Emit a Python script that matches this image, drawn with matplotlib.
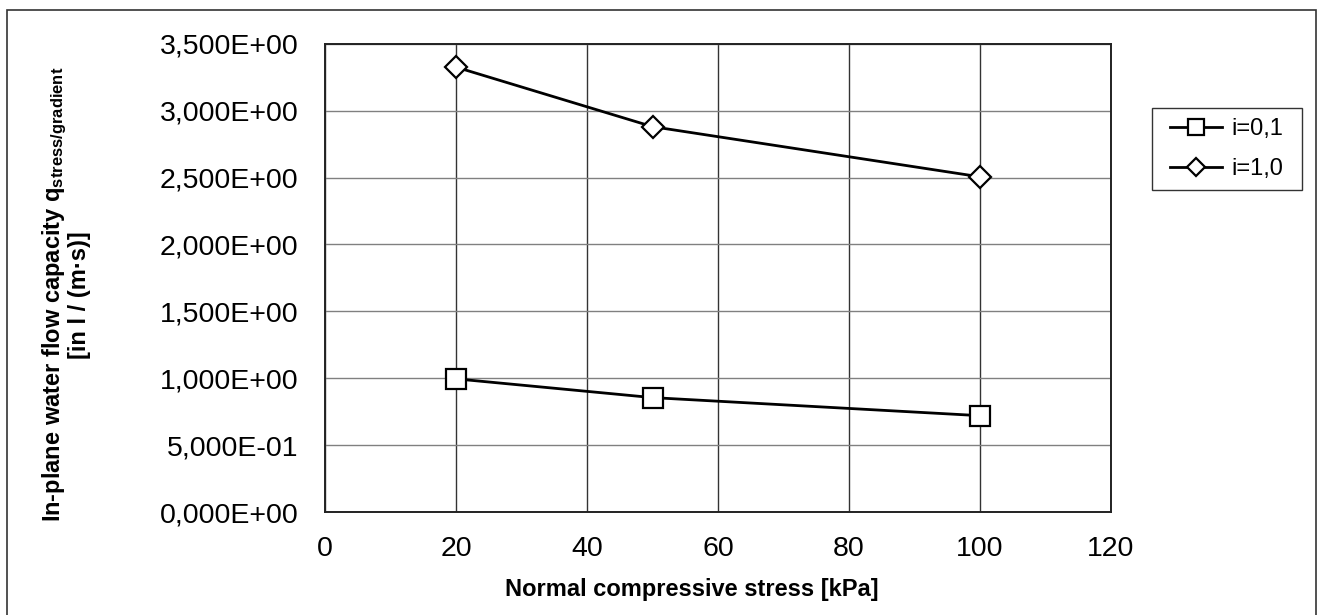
import numpy as np
import matplotlib
matplotlib.use('Agg')
import matplotlib.pyplot as plt
from matplotlib.ticker import FuncFormatter, MultipleLocator
from matplotlib.patches import Rectangle

plt.rcParams['font.family'] = ['Liberation Sans', 'DejaVu Sans']
plt.rcParams['mathtext.fontset'] = 'custom'
plt.rcParams['mathtext.rm'] = 'Liberation Sans:bold'
plt.rcParams['mathtext.it'] = 'Liberation Sans:bold'
plt.rcParams['mathtext.bf'] = 'Liberation Sans:bold'

# Data
stress = [20, 50, 100]                 # normal compressive stress [kPa]
q_i01 = [0.995, 0.855, 0.72]           # i=0,1
q_i10 = [3.325, 2.88, 2.505]           # i=1,0
labels = ['i=0,1', 'i=1,0']

W, H = 1323, 615
fig = plt.figure(figsize=(W / 100, H / 100), dpi=100)
ax = fig.add_axes([325 / W, 1 - 512 / H, (1111 - 325) / W, (512 - 43.7) / H])

ax.plot(stress, q_i01, color='black', lw=2.0, marker='s', ms=14,
        mfc='white', mec='black', mew=1.6, label=labels[0], zorder=3)
ax.plot(stress, q_i10, color='black', lw=2.0, marker='D', ms=11,
        mfc='white', mec='black', mew=1.6, label=labels[1], zorder=3)

ax.set_xlim(0, 120)
ax.set_ylim(0, 3.5)
ax.xaxis.set_major_locator(MultipleLocator(20))
ax.yaxis.set_major_locator(MultipleLocator(0.5))
ax.yaxis.set_major_formatter(FuncFormatter(lambda v, p: ('%.3E' % v).replace('.', ',')))

ax.grid(axis='x', color='#333333', lw=1.0)
ax.grid(axis='y', color='#808080', lw=1.0)
ax.set_axisbelow(True)
for s in ax.spines.values():
    s.set_color('#222222')
    s.set_linewidth(1.4)

ax.tick_params(axis='both', length=0, labelsize=20.5)
ax.tick_params(axis='y', pad=19)
ax.tick_params(axis='x', pad=17.5)

ax.set_xlabel('Normal compressive stress [kPa]', fontsize=17, fontweight='bold')
ax.xaxis.set_label_coords(0.467, -0.141)
ax.set_ylabel('In-plane water flow capacity q$_{\\mathrm{stress/gradient}}$\n[in l / (m·s)]',
              fontsize=17, fontweight='bold', linespacing=0.95, ha='center')
ax.yaxis.set_label_coords(-0.298, 0.464)

# legend: entries without frame, box drawn separately
leg = ax.legend(loc='center', bbox_to_anchor=(1227 / W, 1 - 149 / H),
                bbox_transform=fig.transFigure, borderaxespad=0, borderpad=0,
                fontsize=17, frameon=False, handlelength=2.2,
                markerscale=0.8, labelspacing=0.78, handletextpad=0.4)
fig.patches.append(Rectangle((1152 / W, 1 - 190 / H), 150 / W, 82 / H,
                             transform=fig.transFigure, fill=False,
                             edgecolor='#333333', lw=1.0))

# outer chart frame (bottom edge cropped in the original)
fig.patches.append(Rectangle((7 / W, -0.05), (1316 - 7) / W, 1.05 - 10 / H,
                             transform=fig.transFigure, fill=False,
                             edgecolor='#333333', lw=1.2))

plt.savefig('out.png', dpi=100)
